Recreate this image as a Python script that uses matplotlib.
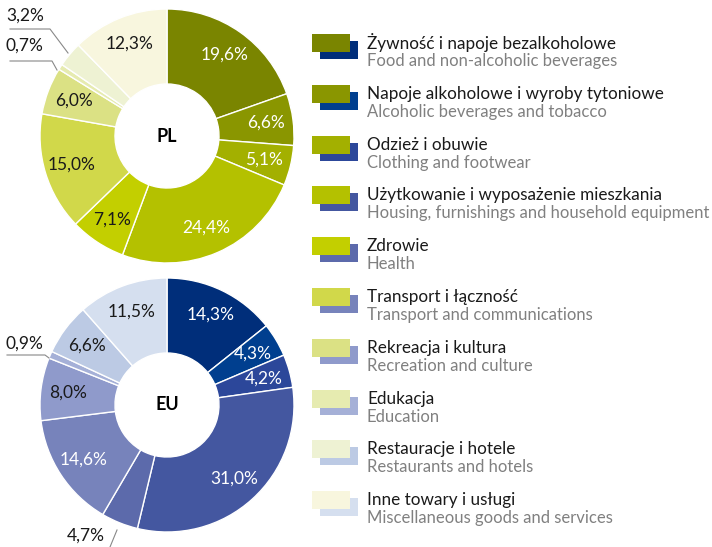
import numpy as np
import matplotlib
matplotlib.use('Agg')
import matplotlib.pyplot as plt
from matplotlib.patches import Rectangle

plt.rcParams['font.family'] = ['Lato', 'DejaVu Sans']

# dane: struktura wydatków (%)
kategorie_pl = ['Żywność i napoje bezalkoholowe', 'Napoje alkoholowe i wyroby tytoniowe',
                'Odzież i obuwie', 'Użytkowanie i wyposażenie mieszkania', 'Zdrowie',
                'Transport i łączność', 'Rekreacja i kultura', 'Edukacja',
                'Restauracje i hotele', 'Inne towary i usługi']
kategorie_en = ['Food and non-alcoholic beverages', 'Alcoholic beverages and tobacco',
                'Clothing and footwear', 'Housing, furnishings and household equipment', 'Health',
                'Transport and communications', 'Recreation and culture', 'Education',
                'Restaurants and hotels', 'Miscellaneous goods and services']
pl = [19.6, 6.6, 5.1, 24.4, 7.1, 15.0, 6.0, 0.7, 3.2, 12.3]
eu = [14.3, 4.3, 4.2, 31.0, 4.7, 14.6, 8.0, 0.9, 6.6, 11.5]

kolory_pl = ['#7a8500', '#8a9600', '#a3b000', '#b4c100', '#c3cf00',
             '#d1d84a', '#dbe184', '#e6ebb0', '#eef2d3', '#f8f6de']
kolory_eu = ['#002e7a', '#003f8f', '#2c479a', '#4457a0', '#5c6aab',
             '#7783bb', '#8f9acb', '#a5b0d7', '#bccae4', '#d5dfef']
biale_pl = [True, True, True, True, False, False, False, False, False, False]
biale_eu = [True, True, True, True, False, True, False, False, False, False]

W, H = 712, 547
fig = plt.figure(figsize=(W / 100, H / 100), dpi=100)
ax = fig.add_axes([0, 0, 1, 1])


def donut(values, colors, white, cx, cy, title, skip):
    wedges, _ = ax.pie(values, colors=colors, startangle=90, counterclock=False,
                       radius=127, center=(cx, H - cy),
                       wedgeprops=dict(width=75, edgecolor='white', linewidth=1))
    for i, w in enumerate(wedges):
        if i in skip:
            continue
        a = np.deg2rad((w.theta1 + w.theta2) / 2)
        ax.text(cx + 100 * np.cos(a), H - cy + 100 * np.sin(a), ('%.1f%%' % values[i]).replace('.', ','),
                ha='center', va='center', fontsize=12.5,
                color='white' if white[i] else '#1a1a1a')
    ax.text(cx, H - cy, title, ha='center', va='center', fontsize=13, fontweight='bold')


donut(pl, kolory_pl, biale_pl, 167, 136, 'PL', skip=[7, 8])
donut(eu, kolory_eu, biale_eu, 167, 405, 'EU', skip=[4, 7])

# etykiety zewnętrzne
def outside(txt, tx, ty, pts):
    ax.text(tx, H - ty, txt, ha='left', va='center', fontsize=12.5, color='#1a1a1a')
    ax.plot([p[0] for p in pts], [H - p[1] for p in pts], color='#888888', lw=0.8)

outside('3,2%', 6, 16, [(10, 29), (50, 29), (68, 53)])
outside('0,7%', 6, 46, [(10, 61), (52, 61), (57, 70)])
outside('0,9%', 6, 344, [(7, 355), (45, 355), (49, 358)])
outside('4,7%', 67, 536, [(110, 547), (117, 530)])

# legenda
for i in range(len(kategorie_pl)):
    y = 43 + i * 50.8
    ax.add_patch(Rectangle((320, H - (y + 16)), 38, 18, color=kolory_eu[i], lw=0))
    ax.add_patch(Rectangle((312, H - (y + 9)), 38, 18, color=kolory_pl[i], lw=0))
    ax.text(367, H - y, kategorie_pl[i], ha='left', va='center', fontsize=12.3, color='#1a1a1a')
    ax.text(367, H - (y + 18), kategorie_en[i], ha='left', va='center', fontsize=12, color='#808080')

ax.set_xlim(0, W)
ax.set_ylim(0, H)
ax.set_aspect('auto')
ax.axis('off')
fig.savefig('out.png', dpi=100, facecolor='white')
